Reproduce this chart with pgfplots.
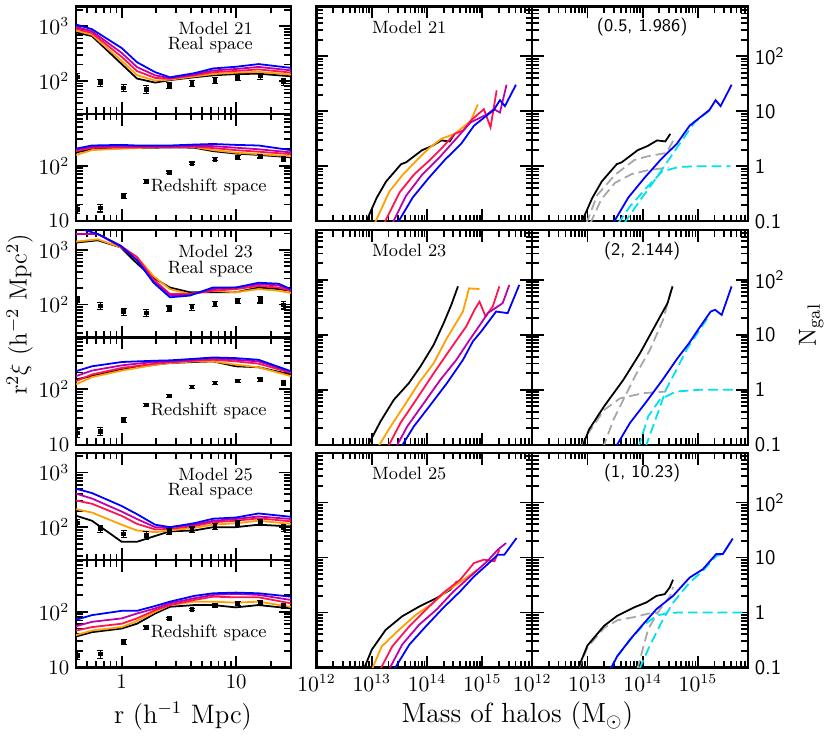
\documentclass[border=0pt]{standalone}
\usepackage{pgfplots}
\pgfplotsset{compat=1.18}
\definecolor{cOra}{RGB}{255,160,0}
\definecolor{cRed}{RGB}{255,20,80}
\definecolor{cMag}{RGB}{190,0,170}
\definecolor{cBlu}{RGB}{0,0,255}
\definecolor{cCya}{RGB}{0,225,235}

% r^2 xi tables: r, black, orange, red, magenta, blue
\pgfplotstableread{
r    k    o    rd   m    b
0.40 778  832  902  980  1081
0.55 664  703  757  813  887
1.0  204  234  277  327  401
1.36 111  128  152  180  221
1.96 93.5 102  114  127  145
2.64 104  106  110  113  117
4.3  117  121  127  132  139
6.3  127  134  145  156  170
9.9  134  142  153  166  182
15.7 136  147  163  181  204
30   122  131  143  157  174
}\MaR
\pgfplotstableread{
r    k    o    rd   m    b
0.40 173  156  182  194  202
0.55 197  190  210  218  230
1.0  207  202  213  221  236
1.36 207  207  213  221  230
1.96 210  213  215  221  230
2.64 213  215  215  221  230
4.3  210  215  218  227  239
6.3  182  190  207  224  245
9.9  165  171  190  210  236
15.7 156  161  178  197  230
30   141  147  161  173  190
}\MaZ
\pgfplotstableread{
r    k    o    rd   m    b
0.40 1365 1422 1950 1950 2600
0.62 1500 1564 1950 1950 1950
0.98 1115 1115 1190 1146 1190
1.36 566  743  743  649  649
1.9  308  330  287  268  251
2.64 205  192  156  150  136
3.93 168  156  156  150  146
6.25 168  179  179  192  205
9.9  168  168  192  205  205
15.7 205  192  219  235  251
23.5 192  179  205  225  241
30   179  163  179  186  192
}\MbR
\pgfplotstableread{
r    k    o    rd   m    b
0.40 150  122  140  172  211
0.55 172  165  184  216  258
1.0  225  216  241  268  308
1.36 248  241  262  288  316
1.96 276  276  288  308  325
2.64 296  296  304  316  330
4.3  308  316  325  338  352
6.3  316  316  338  357  372
9.9  258  276  316  338  362
15.7 248  248  288  316  338
30   184  172  197  205  211
}\MbZ
\pgfplotstableread{
r    k    o    rd   m    b
0.40 162  213  307  410  504
0.55 131  185  268  334  421
1.0  54   111  161  193  244
1.36 54   87   115  141  173
1.96 69   81   91   100  111
2.64 84   87   93   100  100
4.3  87   97   105  111  118
6.3  100  111  123  131  143
9.9  100  118  131  141  150
15.7 111  131  145  157  178
30   103  115  128  141  155
}\McR
\pgfplotstableread{
r    k    o    rd   m    b
0.40 36   38   46   55   72
0.55 43   46   53   66   87
1.0  50   53   61   76   104
1.36 61   68   76   93   104
1.96 93   100  107  115  127
2.64 123  132  132  142  152
4.3  132  152  163  175  193
6.3  132  152  187  201  215
9.9  120  146  182  210  221
15.7 132  152  182  201  215
30   115  123  142  163  187
}\McZ
% observed points
\pgfplotstableread{
r    v    e
0.41 120  18
0.65 94   14
1.04 75   11
1.64 71   11
2.6  84   10
4.1  90   11
6.5  103  12
10.3 117  14
16.3 123  16
25.9 98   15
}\ObsR
\pgfplotstableread{
r    v    e
0.41 16.5 2.8
0.65 17.5 2.8
1.04 28.5 3
1.64 52   3.5
2.6  76   4
4.1  110  6
6.5  130  8
10.3 141  10
16.3 148  11
25.9 130  13
}\ObsZ

% all ticks (decades and 2..9) are listed as ticks; the decades get longer extra ticks
\pgfplotsset{every axis/.append style={scale only axis,
    axis line style={line width=1.15pt}, tick align=inside,
    every tick/.style={black, line width=0.9pt},
    major tick length=3.3pt,
    tick label style={font=\fontsize{10.5}{12}\selectfont},
    extra x tick labels={}, extra y tick labels={},
    extra x tick style={major tick length=6pt},
    extra y tick style={major tick length=6pt}}}
\tikzset{txLab/.style={font=\fontsize{9}{10}\selectfont},
  txLabS/.style={font=\sffamily\fontsize{9}{10}\selectfont}}

\newcommand{\xicurves}[1]{%
  \addplot[black, line width=0.9pt, no markers] table[x=r,y=k] {#1};
  \addplot[cOra, line width=0.9pt, no markers] table[x=r,y=o] {#1};
  \addplot[cRed, line width=0.9pt, no markers] table[x=r,y=rd] {#1};
  \addplot[cMag, line width=0.9pt, no markers] table[x=r,y=m] {#1};
  \addplot[cBlu, line width=0.9pt, no markers] table[x=r,y=b] {#1};
}
\newcommand{\obsplot}[1]{%
  \addplot[black, only marks, mark=square*, mark size=0.9pt,
    error bars/.cd, y dir=both, y explicit,
    error bar style={line width=0.6pt},
    error mark options={rotate=90, mark size=1.5pt, line width=0.6pt}]
    table[x=r,y=v,y error=e] {#1};
}

\begin{document}
\begin{tikzpicture}
\path (0,0) rectangle (415pt,-367pt);

% ---------------- row 1: Model 21 ----------------
\begin{axis}[xmode=log, ymode=log, anchor=north west, at={(36pt,-1.5pt)},
  width=108.5pt, height=54.25pt, xmin=0.4, xmax=30, ymin=25, ymax=2300,
  xtick={0.4,0.5,0.6,0.7,0.8,0.9,1,2,3,4,5,6,7,8,9,10,20,30}, xticklabels={},
  extra x ticks={1,10},
  ytick={30,40,50,60,70,80,90,100,200,300,400,500,600,700,800,900,1000,2000},
  yticklabels={,,,,,,,$10^2$,,,,,,,,,$10^3$,},
  extra y ticks={100,1000}]
\xicurves{\MaR}
\obsplot{\ObsR}
\node[txLab,anchor=east] at (rel axis cs:0.855,0.80) {Model 21};
\node[txLab,anchor=east] at (rel axis cs:0.855,0.64) {Real space};
\end{axis}
\begin{axis}[xmode=log, ymode=log, anchor=north west, at={(36pt,-55.75pt)},
  width=108.5pt, height=54.25pt, xmin=0.4, xmax=30, ymin=10, ymax=850,
  xtick={0.4,0.5,0.6,0.7,0.8,0.9,1,2,3,4,5,6,7,8,9,10,20,30}, xticklabels={},
  extra x ticks={1,10},
  ytick={10,20,30,40,50,60,70,80,90,100,200,300,400,500,600,700,800},
  yticklabels={10,,,,,,,,,$10^2$,,,,,,,},
  extra y ticks={10,100}]
\xicurves{\MaZ}
\obsplot{\ObsZ}
\node[txLab,anchor=east] at (rel axis cs:0.92,0.32) {Redshift space};
\end{axis}

\begin{axis}[xmode=log, ymode=log, anchor=north west, at={(157.5pt,-1.5pt)},
  width=109pt, height=108.5pt, xmin=1e12, xmax=8e15, ymin=0.1, ymax=800,
  xtick={1e12,2e12,3e12,4e12,5e12,6e12,7e12,8e12,9e12,1e13,2e13,3e13,4e13,5e13,6e13,7e13,8e13,9e13,1e14,2e14,3e14,4e14,5e14,6e14,7e14,8e14,9e14,1e15,2e15,3e15,4e15,5e15,6e15,7e15,8e15},
  xticklabels={}, extra x ticks={1e12,1e13,1e14,1e15},
  ytick={0.1,0.2,0.3,0.4,0.5,0.6,0.7,0.8,0.9,1,2,3,4,5,6,7,8,9,10,20,30,40,50,60,70,80,90,100,200,300,400,500,600,700,800},
  yticklabels={}, extra y ticks={0.1,1,10,100}]
\addplot[black, line width=0.9pt] coordinates {(7.6e12,0.09) (1.23e13,0.268) (1.82e13,0.53) (3.39e13,1.09) (4.17e13,1.18) (8.13e13,1.96) (1.23e14,2.34) (1.82e14,2.95) (2.57e14,2.83) (3.16e14,3.88)};
\addplot[cOra, line width=0.9pt] coordinates {(1.12e13,0.09) (2.09e13,0.35) (3.63e13,0.70) (5.75e13,1.13) (1.07e14,2.1) (1.82e14,3.16) (3.16e14,3.88) (6.17e14,6.7) (8.32e14,13.3)};
\addplot[cRed, line width=0.9pt] coordinates {(1.66e13,0.09) (3.16e13,0.33) (5.75e13,0.70) (1.07e14,1.24) (1.82e14,2.1) (3.16e14,3.88) (4.47e14,4.45) (6.61e14,7.2) (1.07e15,10.9) (1.41e15,5.1) (1.82e15,24)};
\addplot[cMag, line width=0.9pt] coordinates {(2.34e13,0.09) (4.17e13,0.29) (8.13e13,0.70) (1.62e14,1.39) (3.16e14,2.95) (6.17e14,6.3) (1.23e15,8.8) (1.62e15,10.9) (2.09e15,9.5) (2.75e15,30.3)};
\addplot[cBlu, line width=0.9pt] coordinates {(2.88e13,0.09) (5.5e13,0.27) (1.07e14,0.61) (2.09e14,1.3) (4.17e14,2.58) (7.08e14,5.47) (1.23e15,8.5) (1.62e15,10.6) (2.09e15,15.9) (2.57e15,12.4) (4.07e15,30.3)};
\node[txLab] at (rel axis cs:0.43,0.905) {Model 21};
\end{axis}

\begin{axis}[xmode=log, ymode=log, anchor=north west, at={(266.5pt,-1.5pt)},
  width=109pt, height=108.5pt, xmin=1e12, xmax=8e15, ymin=0.1, ymax=800,
  xtick={1e12,2e12,3e12,4e12,5e12,6e12,7e12,8e12,9e12,1e13,2e13,3e13,4e13,5e13,6e13,7e13,8e13,9e13,1e14,2e14,3e14,4e14,5e14,6e14,7e14,8e14,9e14,1e15,2e15,3e15,4e15,5e15,6e15,7e15,8e15},
  xticklabels={}, extra x ticks={1e12,1e13,1e14,1e15},
  ytick={0.1,0.2,0.3,0.4,0.5,0.6,0.7,0.8,0.9,1,2,3,4,5,6,7,8,9,10,20,30,40,50,60,70,80,90,100,200,300,400,500,600,700,800},
  yticklabel pos=right,
  yticklabels={\textsf{0.1},,,,,,,,,\textsf{1},,,,,,,,,\textsf{10},,,,,,,,,\textsf{10\textsuperscript{2}},,,,,,,},
  extra y ticks={0.1,1,10,100}]
\addplot[gray!70, line width=0.9pt, dash pattern=on 5pt off 2.5pt] coordinates {(9.5e12,0.09) (1.51e13,0.3) (3.16e13,0.7) (7.08e13,1.3) (1.17e14,1.5) (2.69e14,1.75) (3.55e14,2.9)};
\addplot[gray!70, line width=0.9pt, dash pattern=on 5pt off 2.5pt] coordinates {(1.12e13,0.09) (1.78e13,0.25) (3.16e13,0.5) (6.31e13,0.72) (1.26e14,0.85) (2.95e14,0.95)};
\addplot[cCya, line width=0.9pt, dash pattern=on 5pt off 2.5pt] coordinates {(3.55e13,0.09) (5.75e13,0.18) (1.15e14,0.4) (2.24e14,0.8) (4.47e14,0.97) (1e15,1.0) (3.89e15,1.0)};
\addplot[cCya, line width=0.9pt, dash pattern=on 5pt off 2.5pt] coordinates {(4.57e13,0.09) (8.71e13,0.23) (1.74e14,0.6) (2.57e14,1.07) (4.47e14,2.4) (8.71e14,6.3) (1.32e15,8.8) (1.62e15,10.2)};
\addplot[black, line width=0.9pt] coordinates {(7.6e12,0.09) (1.23e13,0.268) (1.82e13,0.53) (3.39e13,1.09) (4.17e13,1.18) (8.13e13,1.96) (1.23e14,2.34) (1.82e14,2.95) (2.57e14,2.83) (3.16e14,3.88)};
\addplot[cBlu, line width=0.9pt] coordinates {(2.88e13,0.09) (5.5e13,0.27) (1.07e14,0.61) (2.09e14,1.3) (4.17e14,2.58) (7.08e14,5.47) (1.23e15,8.5) (1.62e15,10.6) (2.09e15,15.9) (2.57e15,12.4) (4.07e15,30.3)};
\node[txLabS] at (rel axis cs:0.51,0.905) {(0.5, 1.986)};
\end{axis}

% ---------------- row 2: Model 23 ----------------
\begin{axis}[xmode=log, ymode=log, anchor=north west, at={(36pt,-114.5pt)},
  width=108.5pt, height=54.25pt, xmin=0.4, xmax=30, ymin=25, ymax=2300,
  xtick={0.4,0.5,0.6,0.7,0.8,0.9,1,2,3,4,5,6,7,8,9,10,20,30}, xticklabels={},
  extra x ticks={1,10},
  ytick={30,40,50,60,70,80,90,100,200,300,400,500,600,700,800,900,1000,2000},
  yticklabels={,,,,,,,$10^2$,,,,,,,,,$10^3$,},
  extra y ticks={100,1000}]
\xicurves{\MbR}
\obsplot{\ObsR}
\node[txLab,anchor=east] at (rel axis cs:0.855,0.80) {Model 23};
\node[txLab,anchor=east] at (rel axis cs:0.855,0.64) {Real space};
\end{axis}
\begin{axis}[xmode=log, ymode=log, anchor=north west, at={(36pt,-168.75pt)},
  width=108.5pt, height=54.25pt, xmin=0.4, xmax=30, ymin=10, ymax=850,
  xtick={0.4,0.5,0.6,0.7,0.8,0.9,1,2,3,4,5,6,7,8,9,10,20,30}, xticklabels={},
  extra x ticks={1,10},
  ytick={10,20,30,40,50,60,70,80,90,100,200,300,400,500,600,700,800},
  yticklabels={10,,,,,,,,,$10^2$,,,,,,,},
  extra y ticks={10,100}]
\xicurves{\MbZ}
\obsplot{\ObsZ}
\node[txLab,anchor=east] at (rel axis cs:0.92,0.32) {Redshift space};
\end{axis}

\begin{axis}[xmode=log, ymode=log, anchor=north west, at={(157.5pt,-114.5pt)},
  width=109pt, height=108.5pt, xmin=1e12, xmax=8e15, ymin=0.1, ymax=800,
  xtick={1e12,2e12,3e12,4e12,5e12,6e12,7e12,8e12,9e12,1e13,2e13,3e13,4e13,5e13,6e13,7e13,8e13,9e13,1e14,2e14,3e14,4e14,5e14,6e14,7e14,8e14,9e14,1e15,2e15,3e15,4e15,5e15,6e15,7e15,8e15},
  xticklabels={}, extra x ticks={1e12,1e13,1e14,1e15},
  ytick={0.1,0.2,0.3,0.4,0.5,0.6,0.7,0.8,0.9,1,2,3,4,5,6,7,8,9,10,20,30,40,50,60,70,80,90,100,200,300,400,500,600,700,800},
  yticklabels={}, extra y ticks={0.1,1,10,100}]
\addplot[black, line width=0.9pt] coordinates {(8.32e12,0.093) (1.45e13,0.27) (2.51e13,0.66) (4.68e13,1.32) (7.59e13,2.65) (1.32e14,6.6) (2.0e14,16.3) (2.75e14,35) (3.63e14,76)};
\addplot[cOra, line width=0.9pt] coordinates {(1.26e13,0.087) (2.19e13,0.215) (3.8e13,0.5) (7.08e13,1.32) (1.32e14,3.05) (2.29e14,8.7) (4.47e14,26.5) (5.75e14,70) (8.91e14,68)};
\addplot[cRed, line width=0.9pt] coordinates {(1.91e13,0.087) (3.31e13,0.25) (6.61e13,0.7) (1.32e14,2.0) (2.57e14,5.3) (5.13e14,14.2) (7.24e14,28.5) (8.91e14,40) (1.15e15,21.5) (1.55e15,33) (2.04e15,76)};
\addplot[cMag, line width=0.9pt] coordinates {(2.69e13,0.087) (4.37e13,0.215) (8.71e13,0.57) (1.74e14,1.52) (3.39e14,3.5) (5.89e14,8.1) (9.55e14,16.3) (1.26e15,24.8) (2.34e15,37.7) (3.09e15,81)};
\addplot[cBlu, line width=0.9pt] coordinates {(3.31e13,0.087) (5.75e13,0.215) (1.15e14,0.53) (2.29e14,1.32) (4.47e14,3.5) (6.76e14,7.6) (9.55e14,11.5) (1.78e15,26.5) (2.88e15,24.8) (4.68e15,81)};
\node[txLab] at (rel axis cs:0.43,0.905) {Model 23};
\end{axis}

\begin{axis}[xmode=log, ymode=log, anchor=north west, at={(266.5pt,-114.5pt)},
  width=109pt, height=108.5pt, xmin=1e12, xmax=8e15, ymin=0.1, ymax=800,
  xtick={1e12,2e12,3e12,4e12,5e12,6e12,7e12,8e12,9e12,1e13,2e13,3e13,4e13,5e13,6e13,7e13,8e13,9e13,1e14,2e14,3e14,4e14,5e14,6e14,7e14,8e14,9e14,1e15,2e15,3e15,4e15,5e15,6e15,7e15,8e15},
  xticklabels={}, extra x ticks={1e12,1e13,1e14,1e15},
  ytick={0.1,0.2,0.3,0.4,0.5,0.6,0.7,0.8,0.9,1,2,3,4,5,6,7,8,9,10,20,30,40,50,60,70,80,90,100,200,300,400,500,600,700,800},
  yticklabel pos=right,
  yticklabels={\textsf{0.1},,,,,,,,,\textsf{1},,,,,,,,,\textsf{10},,,,,,,,,\textsf{10\textsuperscript{2}},,,,,,,},
  extra y ticks={0.1,1,10,100}]
\addplot[gray!70, line width=0.9pt, dash pattern=on 5pt off 2.5pt] coordinates {(7.59e12,0.087) (9.33e12,0.14) (2.0e13,0.43) (3.89e13,0.7) (1.02e14,0.87) (2.63e14,0.93)};
\addplot[gray!70, line width=0.9pt, dash pattern=on 5pt off 2.5pt] coordinates {(1.91e13,0.087) (2.95e13,0.285) (4.47e13,0.66) (7.76e13,2.0) (1.35e14,5.3) (2.34e14,18.7) (3.47e14,81)};
\addplot[cCya, line width=0.9pt, dash pattern=on 5pt off 2.5pt] coordinates {(8.32e13,0.087) (1.26e14,0.33) (2.04e14,0.66) (3.98e14,0.93) (1.05e15,1.0) (5.01e15,1.0)};
\addplot[cCya, line width=0.9pt, dash pattern=on 5pt off 2.5pt] coordinates {(1.12e14,0.09) (2.0e14,0.45) (2.63e14,1.0) (3.98e14,2.2) (6.31e14,5.5) (1.0e15,11) (1.58e15,22)};
\addplot[black, line width=0.9pt] coordinates {(8.13e12,0.093) (1.07e13,0.19) (2.0e13,0.5) (4.47e13,1.52) (8.91e13,4.6) (1.78e14,16.3) (2.82e14,37.7) (3.47e14,76)};
\addplot[cBlu, line width=0.9pt] coordinates {(3.16e13,0.087) (5.89e13,0.25) (1.17e14,0.61) (2.29e14,1.52) (4.27e14,3.76) (6.92e14,7.05) (1.05e15,13.2) (1.7e15,26.5) (2.04e15,28.5) (2.69e15,23) (4.07e15,76)};
\node[txLabS] at (rel axis cs:0.51,0.905) {(2, 2.144)};
\end{axis}

% ---------------- row 3: Model 25 ----------------
\begin{axis}[xmode=log, ymode=log, anchor=north west, at={(36pt,-227pt)},
  width=108.5pt, height=54.25pt, xmin=0.4, xmax=30, ymin=25, ymax=2300,
  xtick={0.4,0.5,0.6,0.7,0.8,0.9,1,2,3,4,5,6,7,8,9,10,20,30}, xticklabels={},
  extra x ticks={1,10},
  ytick={30,40,50,60,70,80,90,100,200,300,400,500,600,700,800,900,1000,2000},
  yticklabels={,,,,,,,$10^2$,,,,,,,,,$10^3$,},
  extra y ticks={100,1000}]
\xicurves{\McR}
\obsplot{\ObsR}
\node[txLab,anchor=east] at (rel axis cs:0.855,0.80) {Model 25};
\node[txLab,anchor=east] at (rel axis cs:0.855,0.64) {Real space};
\end{axis}
\begin{axis}[xmode=log, ymode=log, anchor=north west, at={(36pt,-281.25pt)},
  width=108.5pt, height=54.25pt, xmin=0.4, xmax=30, ymin=10, ymax=850,
  xtick={0.4,0.5,0.6,0.7,0.8,0.9,1,2,3,4,5,6,7,8,9,10,20,30},
  xticklabels={,,,,,,1,,,,,,,,,10,,},
  extra x ticks={1,10},
  ytick={10,20,30,40,50,60,70,80,90,100,200,300,400,500,600,700,800},
  yticklabels={10,,,,,,,,,$10^2$,,,,,,,},
  extra y ticks={10,100}]
\xicurves{\McZ}
\obsplot{\ObsZ}
\node[txLab,anchor=east] at (rel axis cs:0.92,0.32) {Redshift space};
\end{axis}

\begin{axis}[xmode=log, ymode=log, anchor=north west, at={(157.5pt,-227pt)},
  width=109pt, height=108.5pt, xmin=1e12, xmax=8e15, ymin=0.1, ymax=800,
  xtick={1e12,2e12,3e12,4e12,5e12,6e12,7e12,8e12,9e12,1e13,2e13,3e13,4e13,5e13,6e13,7e13,8e13,9e13,1e14,2e14,3e14,4e14,5e14,6e14,7e14,8e14,9e14,1e15,2e15,3e15,4e15,5e15,6e15,7e15,8e15},
  xticklabels={$10^{12}$,,,,,,,,,$10^{13}$,,,,,,,,,$10^{14}$,,,,,,,,,$10^{15}$,,,,,,,},
  extra x ticks={1e12,1e13,1e14,1e15},
  ytick={0.1,0.2,0.3,0.4,0.5,0.6,0.7,0.8,0.9,1,2,3,4,5,6,7,8,9,10,20,30,40,50,60,70,80,90,100,200,300,400,500,600,700,800},
  yticklabels={}, extra y ticks={0.1,1,10,100}]
\addplot[black, line width=0.9pt] coordinates {(7.08e12,0.09) (1e13,0.21) (1.78e13,0.48) (3.55e13,0.85) (7.24e13,1.28) (1.48e14,1.82) (2.63e14,2.58) (3.47e14,3.66)};
\addplot[cOra, line width=0.9pt] coordinates {(1e13,0.09) (1.51e13,0.24) (3.09e13,0.48) (6.31e13,0.91) (1.29e14,1.48) (2.24e14,2.41) (4.57e14,3.93) (8.13e14,6.0)};
\addplot[cRed, line width=0.9pt] coordinates {(1.41e13,0.09) (2.34e13,0.24) (4.79e13,0.56) (9.55e13,1.12) (1.95e14,2.25) (3.98e14,3.93) (7.08e14,7.9) (1.07e15,9.1) (1.66e15,8.5) (2.04e15,13.8)};
\addplot[cMag, line width=0.9pt] coordinates {(2.04e13,0.09) (3.55e13,0.26) (7.24e13,0.6) (1.48e14,1.12) (3.02e14,2.41) (6.03e14,4.5) (1.23e15,8.5) (1.91e15,13.8) (2.69e15,18.2)};
\addplot[cBlu, line width=0.9pt] coordinates {(2.51e13,0.09) (4.79e13,0.26) (9.55e13,0.56) (1.95e14,1.2) (3.98e14,2.41) (7.08e14,4.5) (1.23e15,7.4) (1.91e15,11.2) (2.51e15,11.2) (4.17e15,22.5)};
\node[txLab] at (rel axis cs:0.43,0.905) {Model 25};
\end{axis}

\begin{axis}[xmode=log, ymode=log, anchor=north west, at={(266.5pt,-227pt)},
  width=109pt, height=108.5pt, xmin=1e12, xmax=8e15, ymin=0.1, ymax=800,
  xtick={1e12,2e12,3e12,4e12,5e12,6e12,7e12,8e12,9e12,1e13,2e13,3e13,4e13,5e13,6e13,7e13,8e13,9e13,1e14,2e14,3e14,4e14,5e14,6e14,7e14,8e14,9e14,1e15,2e15,3e15,4e15,5e15,6e15,7e15,8e15},
  xticklabels={$10^{12}$,,,,,,,,,$10^{13}$,,,,,,,,,$10^{14}$,,,,,,,,,$10^{15}$,,,,,,,},
  extra x ticks={1e12,1e13,1e14,1e15},
  ytick={0.1,0.2,0.3,0.4,0.5,0.6,0.7,0.8,0.9,1,2,3,4,5,6,7,8,9,10,20,30,40,50,60,70,80,90,100,200,300,400,500,600,700,800},
  yticklabel pos=right,
  yticklabels={\textsf{0.1},,,,,,,,,\textsf{1},,,,,,,,,\textsf{10},,,,,,,,,\textsf{10\textsuperscript{2}},,,,,,,},
  extra y ticks={0.1,1,10,100}]
\addplot[gray!70, line width=0.9pt, dash pattern=on 5pt off 2.5pt] coordinates {(6.76e12,0.09) (1e13,0.23) (2.0e13,0.52) (3.47e13,0.72) (6.92e13,0.82) (1.26e14,0.95) (2.0e14,1.0)};
\addplot[gray!70, line width=0.9pt, dash pattern=on 5pt off 2.5pt] coordinates {(7.94e13,0.09) (1.26e14,0.5) (2.0e14,1.1) (3.16e14,2.0) (3.55e14,2.9)};
\addplot[cCya, line width=0.9pt, dash pattern=on 5pt off 2.5pt] coordinates {(2.57e13,0.09) (3.47e13,0.16) (6.03e13,0.32) (1.0e14,0.57) (1.78e14,0.87) (2.88e14,0.98) (5.37e14,1.0) (7.41e15,1.0)};
\addplot[cCya, line width=0.9pt, dash pattern=on 5pt off 2.5pt] coordinates {(8.71e13,0.093) (1.35e14,0.25) (2.34e14,0.75) (3.55e14,1.5) (7.08e14,3.5) (1.23e15,5.7) (2.14e15,10.6) (2.82e15,11.5) (4.27e15,22)};
\addplot[black, line width=0.9pt] coordinates {(6.61e12,0.09) (1e13,0.25) (2.0e13,0.57) (3.47e13,0.87) (6.92e13,1.23) (1.17e14,1.52) (1.78e14,2.0) (2.51e14,2.15) (3.09e14,2.85) (3.55e14,3.93)};
\addplot[cBlu, line width=0.9pt] coordinates {(2.57e13,0.09) (3.47e13,0.16) (6.03e13,0.33) (1.02e14,0.61) (1.78e14,1.15) (3.55e14,2.0) (7.08e14,4.3) (1.23e15,6.1) (2.14e15,11.5) (2.82e15,11.5) (4.27e15,22)};
\node[txLabS] at (rel axis cs:0.51,0.905) {(1, 10.23)};
\end{axis}

% axis titles
\node[font=\fontsize{13.5}{15}\selectfont] at (90pt,-360pt) {r (h$^{-1}$ Mpc)};
\node[font=\fontsize{14}{16}\selectfont] at (259pt,-360pt) {Mass of halos (M$_\odot$)};
\node[rotate=90,font=\fontsize{12.5}{14}\selectfont] at (7.5pt,-157pt) {r$^2\xi$ (h$^{-2}$ Mpc$^2$)};
\node[rotate=90,font=\fontsize{12.5}{14}\selectfont] at (407.5pt,-162.5pt) {N$_{\rm gal}$};
\end{tikzpicture}
\end{document}
